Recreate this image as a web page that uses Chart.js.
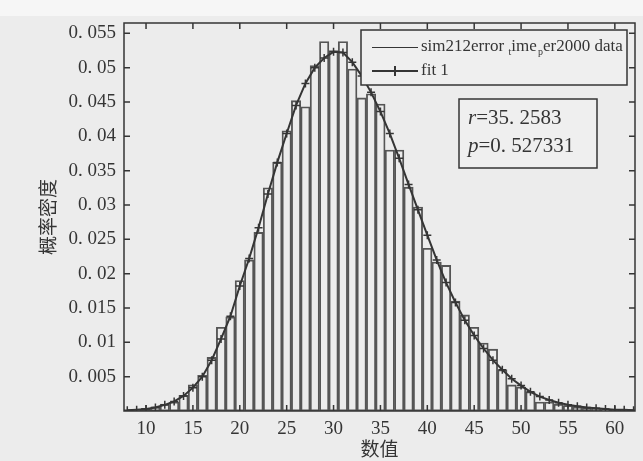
<!DOCTYPE html>
<html>
<head>
<meta charset="utf-8">
<script src="https://cdn.jsdelivr.net/npm/chart.js@4.4.0/dist/chart.umd.min.js"></script>
<style>
  html, body { margin: 0; padding: 0; background: #ececec; }
</style>
</head>
<body>
<canvas id="chart" width="643" height="461"></canvas>
<script>
// histogram bins (bin centres, width 1)
var binValues = [8, 9, 10, 11, 12, 13, 14, 15, 16, 17, 18, 19, 20, 21, 22, 23, 24, 25, 26, 27,
    28, 29, 30, 31, 32, 33, 34, 35, 36, 37, 38, 39, 40, 41, 42, 43, 44, 45, 46, 47,
    48, 49, 50, 51, 52, 53, 54, 55, 56, 57, 58, 59, 60, 61, 62];
var binDensity = [0.0001, 0.0002, 0.0004, 0.0006, 0.0010, 0.0013, 0.0023, 0.0038, 0.0052, 0.0078,
    0.0122, 0.0137, 0.0190, 0.0220, 0.0260, 0.0325, 0.0362, 0.0408, 0.0452, 0.0443,
    0.0503, 0.0538, 0.0525, 0.0538, 0.0498, 0.0456, 0.0462, 0.0447, 0.0380, 0.0380,
    0.0326, 0.0297, 0.0237, 0.0217, 0.0212, 0.0160, 0.0140, 0.0122, 0.0099, 0.0090,
    0.0060, 0.0038, 0.0035, 0.0028, 0.0013, 0.0013, 0.0010, 0.0008, 0.0006, 0.0004,
    0.0003, 0.0002, 0.0002, 0.0001, 0.0001];
// fitted curve, one point per bin centre
var fitDensity = [0.0001, 0.0002, 0.0003, 0.0005, 0.0009, 0.0014, 0.0022, 0.0034, 0.0050, 0.0074,
    0.0105, 0.0138, 0.0182, 0.0222, 0.0267, 0.0316, 0.0362, 0.0404, 0.0445, 0.0477,
    0.0500, 0.0514, 0.0523, 0.0522, 0.0508, 0.0488, 0.0464, 0.0436, 0.0404, 0.0368,
    0.0330, 0.0293, 0.0256, 0.0220, 0.0187, 0.0158, 0.0132, 0.0110, 0.0091, 0.0074,
    0.0060, 0.0047, 0.0037, 0.0028, 0.0021, 0.0016, 0.0012, 0.0009, 0.0007, 0.0005,
    0.0004, 0.0003, 0.0002, 0.0002, 0.0001];
var xTicks = [10, 15, 20, 25, 30, 35, 40, 45, 50, 55, 60];
var yTicks = [0.005, 0.01, 0.015, 0.02, 0.025, 0.03, 0.035, 0.04, 0.045, 0.05, 0.055];
var xTitle = '数值';
var yTitle = '概率密度';
// legend text, [text, isSubscript]
var dataLabel = [['sim212error', false], ['t', true], ['ime', false], ['p', true], ['er2000 data', false]];
var fitLabel = 'fit 1';
var statLines = [['r', '=35. 2583'], ['p', '=0. 527331']];

var ink = '#353535';
var serif = '"Liberation Serif", "DejaVu Serif", serif';

var matlabBox = {
    id: 'matlabBox',
    beforeDraw: function(chart) {
        var ctx = chart.ctx;
        ctx.save();
        ctx.fillStyle = '#ececec';
        ctx.fillRect(0, 0, chart.width, chart.height);
        ctx.fillStyle = '#f6f6f6';
        ctx.fillRect(0, 0, chart.width, 16);
        ctx.restore();
    },
    afterDraw: function(chart) {
        var ctx = chart.ctx;
        var a = chart.chartArea;
        var xs = chart.scales.x, ys = chart.scales.y;
        ctx.save();
        ctx.strokeStyle = ink;
        ctx.lineWidth = 1.5;
        ctx.strokeRect(a.left, a.top, a.right - a.left, a.bottom - a.top);

        // inward ticks on all four sides
        ctx.beginPath();
        xs.ticks.forEach(function(t) {
            var px = xs.getPixelForValue(t.value);
            ctx.moveTo(px, a.bottom); ctx.lineTo(px, a.bottom - 6);
            ctx.moveTo(px, a.top); ctx.lineTo(px, a.top + 6);
        });
        ys.ticks.forEach(function(t) {
            var py = ys.getPixelForValue(t.value);
            ctx.moveTo(a.left, py); ctx.lineTo(a.left + 6, py);
            ctx.moveTo(a.right, py); ctx.lineTo(a.right - 6, py);
        });
        ctx.stroke();

        // legend
        var lx = 361, ly = 30, lw = 266, lh = 55;
        ctx.fillStyle = '#efefef';
        ctx.fillRect(lx, ly, lw, lh);
        ctx.lineWidth = 1.5;
        ctx.strokeRect(lx, ly, lw, lh);

        ctx.lineWidth = 1.2;
        ctx.beginPath();
        ctx.moveTo(372, 47.5); ctx.lineTo(418, 47.5);
        ctx.stroke();
        ctx.lineWidth = 2;
        ctx.beginPath();
        ctx.moveTo(372, 71); ctx.lineTo(418, 71);
        ctx.moveTo(395, 66); ctx.lineTo(395, 76);
        ctx.stroke();

        ctx.fillStyle = ink;
        ctx.textBaseline = 'middle';
        ctx.textAlign = 'left';
        var tx = 421;
        dataLabel.forEach(function(part) {
            ctx.font = (part[1] ? '10px ' : '17px ') + serif;
            ctx.fillText(part[0], tx, part[1] ? 52 : 47);
            tx += ctx.measureText(part[0]).width + (part[1] ? 0 : 0.4 * part[0].length);
        });
        ctx.font = '17px ' + serif;
        ctx.fillText(fitLabel, 421, 71);

        // fit statistics box
        ctx.lineWidth = 1.5;
        ctx.fillStyle = '#efefef';
        ctx.fillRect(459, 99, 138, 69);
        ctx.strokeRect(459, 99, 138, 69);
        ctx.fillStyle = ink;
        statLines.forEach(function(line, i) {
            var yy = 118 + i * 28;
            ctx.font = 'italic 21px ' + serif;
            ctx.fillText(line[0], 468, yy);
            var w = ctx.measureText(line[0]).width;
            ctx.font = '21px ' + serif;
            ctx.fillText(line[1], 468 + w, yy);
        });
        ctx.restore();
    }
};

new Chart(document.getElementById('chart'), {
    type: 'bar',
    data: {
        datasets: [{
            type: 'line',
            label: fitLabel,
            data: binValues.map(function(v, i) { return { x: v, y: fitDensity[i] }; }),
            borderColor: ink,
            borderWidth: 2,
            pointStyle: 'cross',
            pointRadius: 4,
            pointBorderWidth: 1.5,
            pointBorderColor: ink,
            pointBackgroundColor: ink,
            tension: 0,
            order: 0
        }, {
            label: 'data',
            data: binValues.map(function(v, i) { return { x: v, y: binDensity[i] }; }),
            backgroundColor: 'rgba(0,0,0,0)',
            borderColor: '#555555',
            borderWidth: 1.2,
            borderSkipped: false,
            barPercentage: 1,
            categoryPercentage: 1,
            order: 1
        }]
    },
    options: {
        responsive: false,
        animation: false,
        devicePixelRatio: 1,
        layout: { padding: { top: 23, right: 8, left: 0, bottom: 0 } },
        plugins: { legend: { display: false }, tooltip: { enabled: false } },
        scales: {
            x: {
                type: 'linear',
                offset: false,
                min: 7.65,
                max: 62.15,
                afterBuildTicks: function(scale) {
                    scale.ticks = xTicks.map(function(v) { return { value: v }; });
                },
                afterFit: function(scale) { scale.height = 50; },
                grid: { display: false, drawTicks: false, offset: false },
                border: { display: false },
                ticks: { color: ink, padding: 7, font: { family: serif, size: 19 } },
                title: {
                    display: true, text: xTitle, color: ink,
                    font: { family: '"Noto Sans CJK SC"', size: 19 },
                    padding: { top: 0, bottom: 1 }
                }
            },
            y: {
                min: 0,
                max: 0.0565,
                afterBuildTicks: function(scale) {
                    scale.ticks = yTicks.map(function(v) { return { value: v }; });
                },
                afterFit: function(scale) { scale.width = 124; },
                grid: { display: false, drawTicks: false },
                border: { display: false },
                ticks: {
                    color: ink, padding: 8, font: { family: serif, size: 19 },
                    callback: function(v) {
                        return '0. ' + v.toFixed(3).slice(2).replace(/0+$/, '');
                    }
                },
                title: {
                    display: true, text: yTitle, color: ink,
                    font: { family: '"Noto Sans CJK SC"', size: 19 },
                    padding: { top: 36, bottom: 0 }
                }
            }
        }
    },
    plugins: [matlabBox]
});
</script>
</body>
</html>
